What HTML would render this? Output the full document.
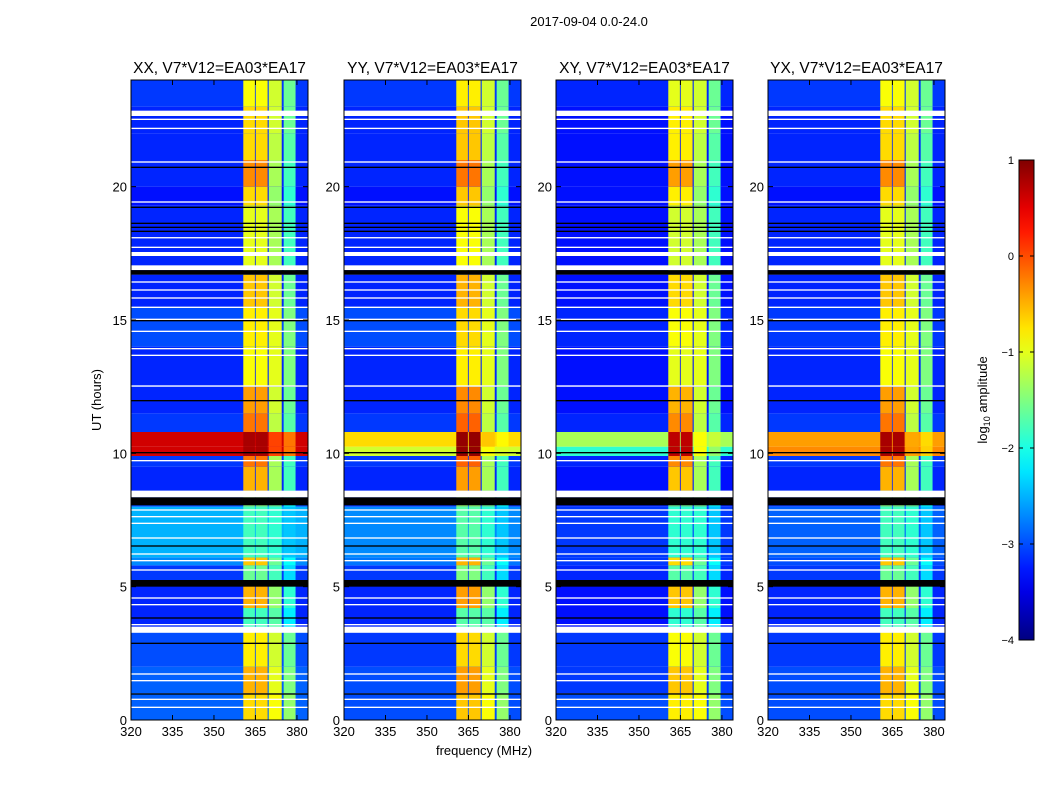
<!DOCTYPE html>
<html><head><meta charset="utf-8"><style>
body{margin:0;background:#fff;font-family:"Liberation Sans",sans-serif}
svg text{font-family:"Liberation Sans",sans-serif}
</style></head><body>
<svg id="fig" width="1050" height="800" xmlns="http://www.w3.org/2000/svg">
<rect width="1050" height="800" fill="#fff"/>
<text x="589" y="26" font-size="13" text-anchor="middle">2017-09-04 0.0-24.0</text>
<text x="484" y="755" font-size="13" text-anchor="middle">frequency (MHz)</text>
<text transform="translate(101,400) rotate(-90)" font-size="13" text-anchor="middle">UT (hours)</text>
<g id="panels"></g>
<g id="cbar"></g>
</svg>
<script>
const panelTitles=["XX, V7*V12=EA03*EA17","YY, V7*V12=EA03*EA17","XY, V7*V12=EA03*EA17","YX, V7*V12=EA03*EA17"];
const xTicks=[320,335,350,365,380];
const yTicks=[0,5,10,15,20];
const cbTicks=[1,0,-1,-2,-3,-4];
const segStart=[0,1,2,3.3,4.2,5.2,5.8,6.1,8.0,8.6,9.5,9.9,10.25,10.8,11.5,12.5,14.0,15.5,16.7,17.5,19.3,20.0,21.0,22.0,23.0];
const segEnd  =[1,2,3.3,4.2,5.2,5.8,6.1,8.0,8.6,9.5,9.9,10.25,10.8,11.5,12.5,14.0,15.5,16.7,17.5,19.3,20.0,21.0,22.0,23.0,24];
const hotLevel=[-0.7,-0.5,-0.8,-1.8,-0.5,-1.6,-0.6,-1.8,-1.5,-0.5,-0.2,0.8,0.8,-0.2,-0.4,-0.9,-0.8,-0.6,-1.0,-1.0,-0.7,-0.3,-0.7,-0.7,-0.9];
const coolLevel=[-1.0,-1.1,-1.2,-1.8,-1.5,-1.9,-1.7,-2.0,-1.7,-1.4,-1.4,-1.0,-1.0,-1.3,-1.2,-1.1,-1.1,-1.2,-1.4,-1.4,-1.5,-1.4,-1.3,-1.2,-1.2];
const bgLevel1=[-2.9,-2.9,-3.0,-3.2,-3.2,-3.1,-2.7,-2.5,-3.0,-3.2,-3.1,0.6,0.6,-3.1,-3.2,-3.2,-3.0,-3.2,-3.2,-3.2,-3.3,-3.2,-3.2,-3.2,-3.1];
const bgLevel2=[-3.0,-3.0,-3.1,-3.2,-3.2,-3.1,-2.8,-2.7,-3.1,-3.2,-3.1,-1.1,-0.7,-3.1,-3.2,-3.2,-3.0,-3.2,-3.2,-3.2,-3.3,-3.2,-3.2,-3.2,-3.1];
const bgLevel3=[-3.0,-3.1,-3.1,-3.3,-3.3,-3.2,-3.1,-3.1,-3.2,-3.3,-3.2,-1.9,-1.3,-3.2,-3.3,-3.3,-3.2,-3.3,-3.3,-3.3,-3.3,-3.3,-3.3,-3.3,-3.2];
const bgLevel4=[-3.0,-3.0,-3.1,-3.2,-3.2,-3.1,-3.0,-2.9,-3.1,-3.2,-3.1,-0.3,-0.4,-3.1,-3.2,-3.2,-3.1,-3.2,-3.2,-3.2,-3.3,-3.2,-3.2,-3.2,-3.1];
const hotOffset=[0,0.1,-0.1,0];
const bandLo=[360.6,365.1,369.8,375.2];
const bandHi=[364.8,369.4,374.5,379.5];
const bandAdj=[0,0,0.1,-0.4];
const whiteStart=[0.45,0.75,1.45,1.7,3.27,3.55,4.3,4.55,5.6,5.95,6.2,6.8,7.35,7.6,7.85,8.35,9.7,12.5,13.65,13.9,14.55,15.0,15.45,15.8,16.1,16.4,16.87,17.4,17.7,18.06,19.4,20.9,22.16,22.5,22.65];
const whiteEnd  =[0.5,0.8,1.5,1.75,3.5,3.6,4.35,4.6,5.65,6.0,6.25,6.85,7.4,7.65,7.9,8.6,9.75,12.55,13.7,13.95,14.6,15.05,15.5,15.85,16.15,16.45,17.05,17.55,17.75,18.11,19.45,20.95,22.21,22.55,22.85];
const blackStart=[0.95,2.85,3.8,5.0,6.5,8.05,10.0,11.95,14.95,16.7,18.3,18.45,18.6,19.2,20.7];
const blackEnd  =[1.0,2.9,3.85,5.25,6.55,8.35,10.05,12.0,15.0,16.87,18.35,18.5,18.65,19.25,20.75];
const panelX=[131,344,556,768];
const PW=177,PT=80,PB=720,F0=320,F1=384,T1=24;
const NS="http://www.w3.org/2000/svg";
function jet(v){let t=(v+4)/5;t=Math.max(0,Math.min(1,t));
 const r=Math.max(0,Math.min(1,1.5-Math.abs(4*t-3))),g=Math.max(0,Math.min(1,1.5-Math.abs(4*t-2))),b=Math.max(0,Math.min(1,1.5-Math.abs(4*t-1)));
 return `rgb(${Math.round(r*255)},${Math.round(g*255)},${Math.round(b*255)})`;}
function mk(tag,attrs,parent){const e=document.createElementNS(NS,tag);for(const k in attrs)e.setAttribute(k,attrs[k]);parent.appendChild(e);return e;}
const bgs=[bgLevel1,bgLevel2,bgLevel3,bgLevel4];
const G=document.getElementById('panels');
panelX.forEach((x0,p)=>{
 const xs=f=>x0+(f-F0)/(F1-F0)*PW, ys=h=>PB-h/T1*(PB-PT);
 const g=mk('g',{},G);
 
 
 segStart.forEach((s,i)=>{
  const y=ys(segEnd[i]),h=ys(s)-y;
  const r=mk('rect',{x:x0,y:y,width:PW,height:h,fill:jet(bgs[p][i])},g);
  
  
  bandLo.forEach((lo,b)=>{
   let v=b<2?hotLevel[i]+hotOffset[p]:coolLevel[i]+bandAdj[b];
   if(bgs[p][i]>v) v=(v+bgs[p][i])/2+0.2;
   const c=mk('rect',{x:xs(lo),y:y,width:xs(bandHi[b])-xs(lo),height:h,fill:jet(v)},g);
   
   
  });
 });
 whiteStart.forEach((s,i)=>{const y=ys(whiteEnd[i]);const r=mk('rect',{x:x0,y:y,width:PW,height:Math.max(1.2,ys(s)-y),fill:'#fff'},g);
  
  });
 blackStart.forEach((s,i)=>{const y=ys(blackEnd[i]);const r=mk('rect',{x:x0,y:y,width:PW,height:Math.max(1.2,ys(s)-y),fill:'#000'},g);
  
  });
 const fr=mk('rect',{x:x0,y:PT,width:PW,height:PB-PT,fill:'none',stroke:'#000','stroke-width':1},g);
 
 
 const t=mk('text',{x:x0+PW/2,y:PT-7,'font-size':15.5,'text-anchor':'middle'},g);t.textContent=panelTitles[p];
 
 
 xTicks.forEach(f=>{const x=xs(f);
  mk('line',{x1:x,x2:x,y1:PB,y2:PB-5,stroke:'#000'},g);mk('line',{x1:x,x2:x,y1:PT,y2:PT+5,stroke:'#000'},g);
  const l=mk('text',{x:x,y:PB+16,'font-size':13,'text-anchor':'middle'},g);l.textContent=f;
  
  });
 yTicks.forEach(h=>{const y=ys(h);
  mk('line',{x1:x0,x2:x0+5,y1:y,y2:y,stroke:'#000'},g);mk('line',{x1:x0+PW,x2:x0+PW-5,y1:y,y2:y,stroke:'#000'},g);
  const l=mk('text',{x:x0-4,y:y+5,'font-size':13,'text-anchor':'end'},g);l.textContent=h;
  
  });
});
const C=document.getElementById('cbar');


const CX=1019,CW=15,CT=160,CB=640;
const defs=mk('defs',{},C);const lg=mk('linearGradient',{id:'jg',x1:0,y1:1,x2:0,y2:0},defs);
for(let i=0;i<=20;i++){const v=-4+5*i/20;mk('stop',{offset:i/20,'stop-color':jet(v)},lg);}
mk('rect',{x:CX,y:CT,width:CW,height:CB-CT,fill:'url(#jg)',stroke:'#000'},C);
cbTicks.forEach(v=>{const y=CB-(v+4)/5*(CB-CT);
 mk('line',{x1:CX,x2:CX+4,y1:y,y2:y,stroke:'#000'},C);mk('line',{x1:CX+CW,x2:CX+CW-4,y1:y,y2:y,stroke:'#000'},C);
 const l=mk('text',{x:CX-5,y:y+4,'font-size':11,'text-anchor':'end'},C);l.textContent=v<0?'\u2212'+(-v):v;
 
 });
const cl=mk('text',{transform:'translate(987,400) rotate(-90)','font-size':13,'text-anchor':'middle'},C);
cl.innerHTML='log<tspan font-size="9" dy="3">10</tspan><tspan dy="-3"> amplitude</tspan>';


</script>
</body></html>
